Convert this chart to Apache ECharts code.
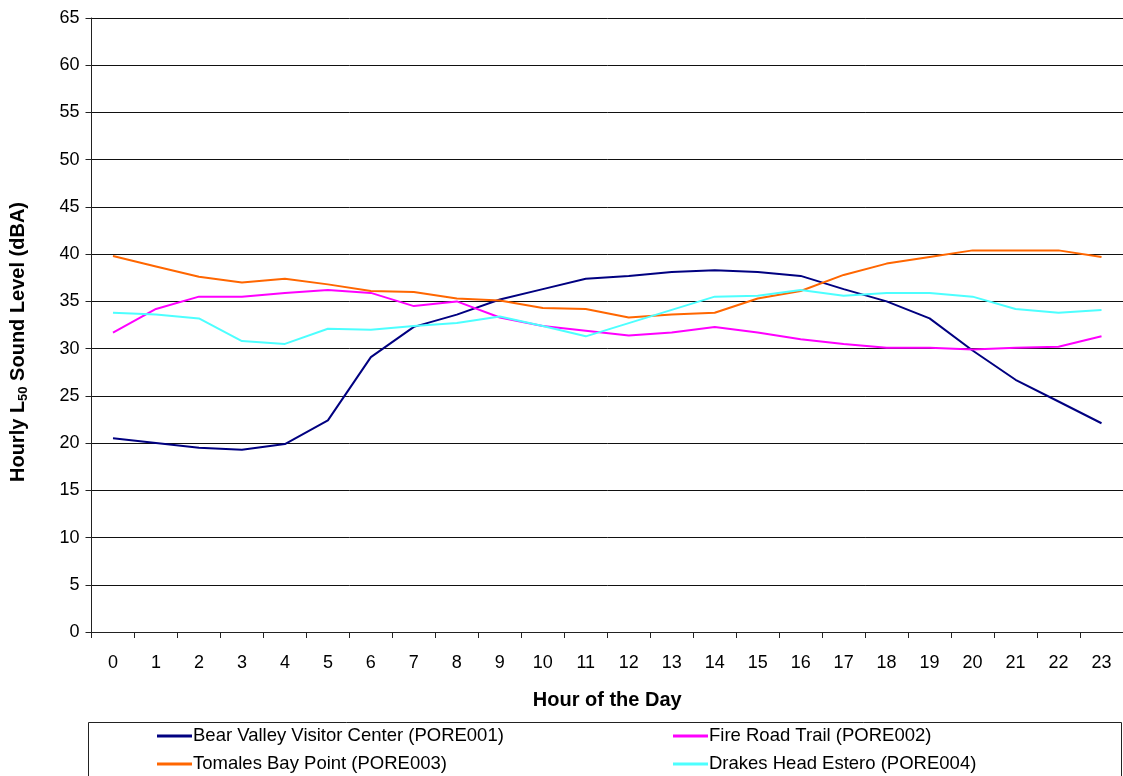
<!DOCTYPE html>
<html>
<head>
<meta charset="utf-8">
<script src="https://cdn.jsdelivr.net/npm/echarts@6/dist/echarts.min.js"></script>
<style>
  html, body { margin: 0; padding: 0; background: #fff; }
  #chart { width: 1123px; height: 776px; }
</style>
</head>
<body>
<div id="chart"></div>
<script>
const hours = ['0','1','2','3','4','5','6','7','8','9','10','11','12','13','14','15','16','17','18','19','20','21','22','23']

const bearValley = [20.5, 20.0, 19.5, 19.3, 19.9, 22.4, 29.1, 32.3, 33.6, 35.2, 36.3, 37.4, 37.7, 38.1, 38.3, 38.1, 37.7, 36.3, 35.0, 33.2, 29.8, 26.7, 24.4, 22.1]
const fireRoad = [31.7, 34.2, 35.5, 35.5, 35.9, 36.2, 35.9, 34.5, 35.0, 33.3, 32.4, 31.9, 31.4, 31.7, 32.3, 31.7, 31.0, 30.5, 30.1, 30.1, 29.9, 30.1, 30.2, 31.3]
const tomales = [39.8, 38.7, 37.6, 37.0, 37.4, 36.8, 36.1, 36.0, 35.3, 35.1, 34.3, 34.2, 33.3, 33.6, 33.8, 35.3, 36.1, 37.8, 39.0, 39.7, 40.4, 40.4, 40.4, 39.7]
const drakes = [33.8, 33.6, 33.2, 30.8, 30.5, 32.1, 32.0, 32.4, 32.7, 33.4, 32.4, 31.3, 32.7, 34.1, 35.5, 35.6, 36.2, 35.6, 35.9, 35.9, 35.5, 34.2, 33.8, 34.1]

const names = [
  'Bear Valley Visitor Center (PORE001)',
  'Fire Road Trail (PORE002)',
  'Tomales Bay Point (PORE003)',
  'Drakes Head Estero (PORE004)'
]
const colors = ['#000080', '#FF00FF', '#FF6600', '#4DFFFF']

const font = 'Liberation Sans, Arial, sans-serif'

const chart = echarts.init(document.getElementById('chart'))

function line(name, data, color) {
  return {
    name: name,
    type: 'line',
    data: data,
    symbol: 'none',
    lineStyle: { color: color, width: 2 },
    itemStyle: { color: color }
  }
}

const legendBase = {
  orient: 'vertical',
  top: 726,
  height: 100,
  padding: 0,
  itemWidth: 35,
  itemHeight: 3,
  itemGap: 8,
  icon: 'rect',
  textStyle: { fontFamily: font, fontSize: 18.5, lineHeight: 20, color: '#000', padding: [0, 0, 0, -4] }
}

chart.setOption({
  animation: false,
  backgroundColor: '#fff',
  grid: { left: 90, right: -3, top: 18, bottom: 144 },
  xAxis: {
    type: 'category',
    data: hours,
    boundaryGap: true,
    name: 'Hour of the Day',
    nameLocation: 'middle',
    nameGap: 58,
    nameTextStyle: { fontFamily: font, fontSize: 20, fontWeight: 'bold', color: '#000' },
    axisLine: { lineStyle: { color: '#222', width: 1 } },
    axisTick: { show: true, alignWithLabel: false, length: 6, lineStyle: { color: '#222' } },
    axisLabel: { fontFamily: font, fontSize: 18, color: '#000', margin: 22 },
    splitLine: { show: false }
  },
  yAxis: {
    type: 'value',
    min: 0,
    max: 65,
    interval: 5,
    name: '{a|Hourly L}{s|50}{a| Sound Level (dBA)}',
    nameLocation: 'middle',
    nameRotate: 90,
    nameGap: 62,
    nameTextStyle: {
      padding: [0, 34, 0, 0],
      rich: {
        a: { fontFamily: font, fontSize: 20, fontWeight: 'bold', color: '#000' },
        s: { fontFamily: font, fontSize: 13, fontWeight: 'bold', color: '#000', verticalAlign: 'bottom', padding: [10, 0, 0, 0] }
      }
    },
    axisLine: { show: true, lineStyle: { color: '#222', width: 1 } },
    axisTick: { show: true, length: 6, lineStyle: { color: '#222' } },
    axisLabel: { fontFamily: font, fontSize: 18, color: '#000', margin: 12 },
    splitLine: { show: true, lineStyle: { color: '#111', width: 1 } }
  },
  legend: [
    Object.assign({}, legendBase, { left: 157, data: [names[0], names[2]] }),
    Object.assign({}, legendBase, { left: 673, data: [names[1], names[3]] })
  ],
  graphic: [{
    type: 'rect',
    shape: { x: 88.5, y: 722.5, width: 1033, height: 80 },
    style: { fill: 'none', stroke: '#222', lineWidth: 1 },
    z: -1
  }],
  series: [
    line(names[0], bearValley, colors[0]),
    line(names[1], fireRoad, colors[1]),
    line(names[2], tomales, colors[2]),
    line(names[3], drakes, colors[3])
  ]
})
</script>
</body>
</html>
